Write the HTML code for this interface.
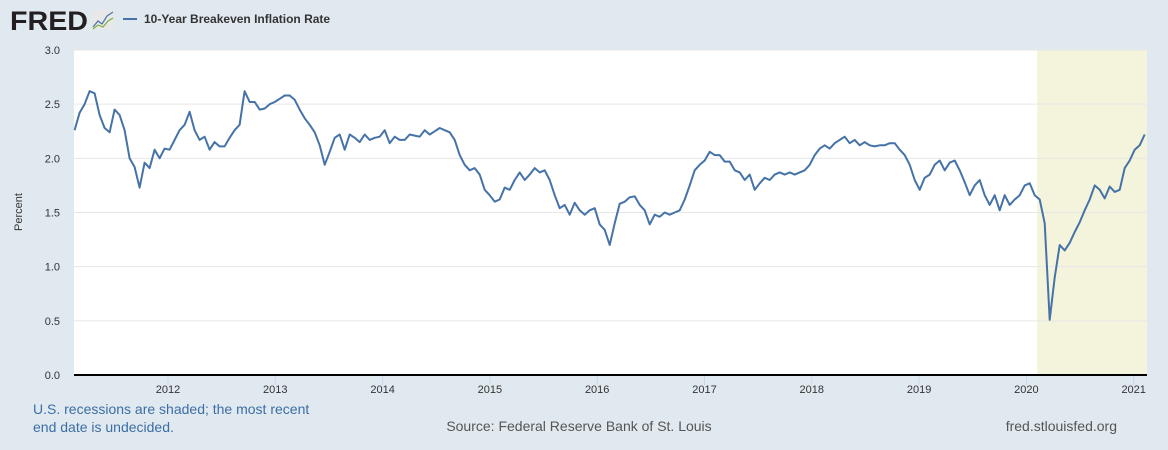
<!DOCTYPE html>
<html><head><meta charset="utf-8"><style>
body{margin:0;background:#e1e9f0;font-family:"Liberation Sans",Arial,sans-serif}
svg{display:block}
</style></head><body>
<svg width="1168" height="450" xmlns="http://www.w3.org/2000/svg">
<rect x="0" y="0" width="1168" height="450" fill="#e1e9f0"/>
<text x="10" y="30" font-size="27" font-weight="900" fill="#231f20" textLength="78" lengthAdjust="spacingAndGlyphs">FRED</text>
<g>
<rect x="92" y="10" width="22" height="20" rx="2" fill="#e8e8e8"/>
<polyline points="93,27 98,21 102,24 107,16 113,12" fill="none" stroke="#4572a7" stroke-width="1.2"/>
<polyline points="93,29 98,25 103,27 108,21 113,18" fill="none" stroke="#7bb03f" stroke-width="1.2"/>
</g>
<line x1="123" y1="19" x2="137" y2="19" stroke="#4572a7" stroke-width="2"/>
<text x="144" y="23" font-size="12" font-weight="bold" fill="#333">10-Year Breakeven Inflation Rate</text>
<rect x="74" y="50" width="1073" height="325" fill="#fff"/>
<g id="rec"></g>
<g id="grid"></g>
<g id="ylab"></g>
<g id="xlab"></g>
<path id="line" fill="none" stroke="#4572a7" stroke-width="2" stroke-linejoin="round"/>
<line x1="74" y1="375" x2="1147" y2="375" stroke="#000" stroke-width="2"/>
<text transform="translate(22,212) rotate(-90)" text-anchor="middle" font-size="11" fill="#333">Percent</text>
<text x="33" y="414" font-size="14" fill="#3b6ea5">U.S. recessions are shaded; the most recent</text>
<text x="33" y="432" font-size="14" fill="#3b6ea5">end date is undecided.</text>
<text x="579" y="431" text-anchor="middle" font-size="14" fill="#555">Source: Federal Reserve Bank of St. Louis</text>
<text x="1117" y="431" text-anchor="end" font-size="14" fill="#555">fred.stlouisfed.org</text>
</svg>
<script>
const startYear = 2011.13;
const stepYears = 0.0466;
const values = [2.26,2.42,2.50,2.62,2.60,2.40,2.28,2.24,2.45,2.40,2.26,2.00,1.92,1.73,1.96,1.91,2.08,2.00,2.09,2.08,2.17,2.26,2.31,2.43,2.26,2.17,2.20,2.08,2.15,2.11,2.11,2.19,2.26,2.31,2.62,2.52,2.52,2.45,2.46,2.50,2.52,2.55,2.58,2.58,2.54,2.45,2.37,2.31,2.24,2.12,1.94,2.06,2.19,2.22,2.08,2.22,2.19,2.15,2.22,2.17,2.19,2.20,2.26,2.14,2.20,2.17,2.17,2.22,2.21,2.20,2.26,2.22,2.25,2.28,2.26,2.24,2.17,2.03,1.94,1.89,1.91,1.85,1.71,1.66,1.60,1.62,1.73,1.71,1.80,1.87,1.80,1.85,1.91,1.87,1.89,1.80,1.66,1.54,1.57,1.48,1.59,1.52,1.48,1.52,1.54,1.39,1.34,1.20,1.40,1.58,1.60,1.64,1.65,1.57,1.52,1.39,1.48,1.46,1.50,1.48,1.50,1.52,1.62,1.75,1.89,1.94,1.98,2.06,2.03,2.03,1.97,1.97,1.89,1.87,1.80,1.85,1.71,1.77,1.82,1.80,1.85,1.87,1.85,1.87,1.85,1.87,1.89,1.94,2.03,2.09,2.12,2.09,2.14,2.17,2.20,2.14,2.17,2.12,2.15,2.12,2.11,2.12,2.12,2.14,2.14,2.08,2.03,1.94,1.80,1.71,1.82,1.85,1.94,1.98,1.89,1.96,1.98,1.89,1.78,1.66,1.75,1.80,1.66,1.57,1.66,1.52,1.66,1.57,1.62,1.66,1.75,1.77,1.66,1.62,1.40,0.51,0.90,1.20,1.15,1.22,1.32,1.41,1.52,1.62,1.75,1.71,1.63,1.74,1.69,1.71,1.91,1.98,2.08,2.12,2.22];
const yTicks = [0,0.5,1,1.5,2,2.5,3];
const yTickLabels = ["0.0","0.5","1.0","1.5","2.0","2.5","3.0"];
const xTicks = [2012,2013,2014,2015,2016,2017,2018,2019,2020,2021];
const recessions = [[2020.10, 2021.124]];

const X0=74,X1=1147,Y0=375,Y1=50,T0=2011.124,T1=2021.124;
function xs(t){return X0+(t-T0)/(T1-T0)*(X1-X0);}
function ys(v){return Y0-(v-0)/(3-0)*(Y0-Y1);}
const NS="http://www.w3.org/2000/svg";
function mk(tag,parent,attrs){const e=document.createElementNS(NS,tag);for(const k in attrs)e.setAttribute(k,attrs[k]);parent.appendChild(e);return e;}

const rec=document.getElementById('rec');
recessions.forEach(r=>{
  const e=mk('rect',rec,{x:xs(r[0]),y:Y1,width:xs(r[1])-xs(r[0]),height:Y0-Y1,fill:'#f4f4dc'});
  
  
});
const grid=document.getElementById('grid'),yl=document.getElementById('ylab');
yTicks.forEach((v,i)=>{
  if(v>0){const g=mk('line',grid,{x1:X0,x2:X1,y1:ys(v),y2:ys(v),stroke:'#e6e6e6','stroke-width':1});
  
  }
  const t=mk('text',yl,{x:60,y:ys(v)+4,'text-anchor':'end','font-size':11,fill:'#333'});
  t.textContent=yTickLabels[i];
  
  
});
const xl=document.getElementById('xlab');
xTicks.forEach(y=>{
  const l=mk('line',xl,{x1:xs(y),x2:xs(y),y1:376,y2:385,stroke:'#ccd6eb','stroke-width':1});
  
  
  const t=mk('text',xl,{x:xs(y),y:393,'text-anchor':'middle','font-size':11,fill:'#333'});
  t.textContent=String(y);
  
  
});
let d='';
values.forEach((v,i)=>{d+=(i?'L':'M')+xs(startYear+i*stepYears).toFixed(1)+' '+ys(v).toFixed(1);});
document.getElementById('line').setAttribute('d',d);
</script>
</body></html>
